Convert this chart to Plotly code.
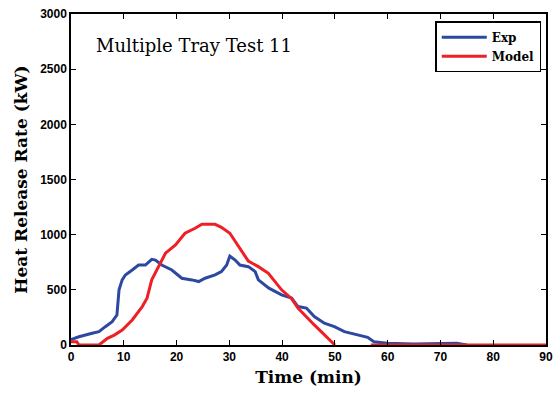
"""Heat release rate comparison, Multiple Tray Test 11."""

import plotly.graph_objects as go

exp_time = [0, 1.5, 4.0, 5.3, 6.5, 7.8, 8.7, 9.1, 9.7, 10.3, 11.6, 12.8, 14.1, 15.3,
            16.0, 17.2, 19.1, 21.0, 22.9, 24.2, 25.4, 27.3, 28.5, 29.5, 30.1, 31.1,
            32.0, 33.6, 34.9, 35.5, 37.5, 39.9, 41.8, 43.0, 44.6, 46.1, 48.0, 49.9,
            51.8, 54.3, 56.2, 57.4, 59.9, 64.9, 69.3, 73.1, 75.0]
exp_hrr = [50, 75, 106, 121, 166, 211, 272, 500, 590, 635, 680, 725, 725, 777,
           770, 725, 680, 605, 590, 575, 605, 635, 665, 725, 806, 770,
           725, 710, 665, 590, 515, 455, 425, 348, 335, 258, 197, 166,
           121, 91, 70, 30, 15, 9, 9, 15, 0]

model_time = [0, 1.1, 1.5, 5.3, 6.9, 8.2, 9.7, 11.6, 13.5, 14.4, 15.3, 16.6, 17.9,
              19.8, 21.6, 23.5, 24.8, 27.3, 28.5, 30.1, 31.7, 33.6, 35.5, 37.4,
              39.9, 41.8, 43.0, 46.1, 50.0, None, 56.8, 90]
model_hrr = [30, 30, 0, 0, 60, 90, 136, 227, 348, 424, 590, 710, 832,
             907, 1013, 1058, 1094, 1094, 1067, 1013, 892, 760, 710, 650,
             500, 420, 335, 182, 0, None, 0, 0]

SERIF = "Century Schoolbook L, DejaVu Serif, serif"

fig = go.Figure()
fig.add_trace(go.Scatter(x=exp_time, y=exp_hrr, mode="lines", name="Exp",
                         line={"color": "#2c48a0", "width": 3}))
fig.add_trace(go.Scatter(x=model_time, y=model_hrr, mode="lines", name="Model",
                         line={"color": "#ee2026", "width": 3}, connectgaps=False))

axis_style = dict(
    showline=True, linecolor="black", linewidth=1.5, mirror="ticks",
    ticks="inside", ticklen=5, tickcolor="black", showgrid=False, zeroline=False,
    automargin=False,
    tickfont={"family": "Liberation Sans, Arial, sans-serif", "size": 12,
              "color": "black", "weight": "bold"},
)
title_font = {"family": SERIF, "size": 17, "color": "black", "weight": "bold"}

fig.update_layout(
    width=555, height=398,
    margin={"l": 71, "r": 9, "t": 14, "b": 53},
    paper_bgcolor="white", plot_bgcolor="white",
    xaxis=dict(axis_style, range=[0, 90], dtick=10,
               title={"text": "Time (min)", "font": title_font, "standoff": 8}),
    yaxis=dict(axis_style, range=[0, 3000], dtick=500,
               title={"text": "Heat Release Rate (kW)", "font": title_font, "standoff": 8}),
    legend={"x": 0.99, "y": 0.978, "xanchor": "right", "yanchor": "top",
            "bordercolor": "black", "borderwidth": 1.5, "bgcolor": "white",
            "font": {"family": SERIF, "size": 12, "color": "black", "weight": "bold"},
            "tracegroupgap": 0, "itemwidth": 45},
    annotations=[dict(text="Multiple Tray Test 11", x=0.048, y=0.905, xref="paper", yref="paper",
                      xanchor="left", yanchor="middle", showarrow=False,
                      font={"family": SERIF, "size": 18, "color": "black"})],
)

fig.write_html("out.html", config={"displayModeBar": False},
               post_script="document.body.style.margin = '0';")
